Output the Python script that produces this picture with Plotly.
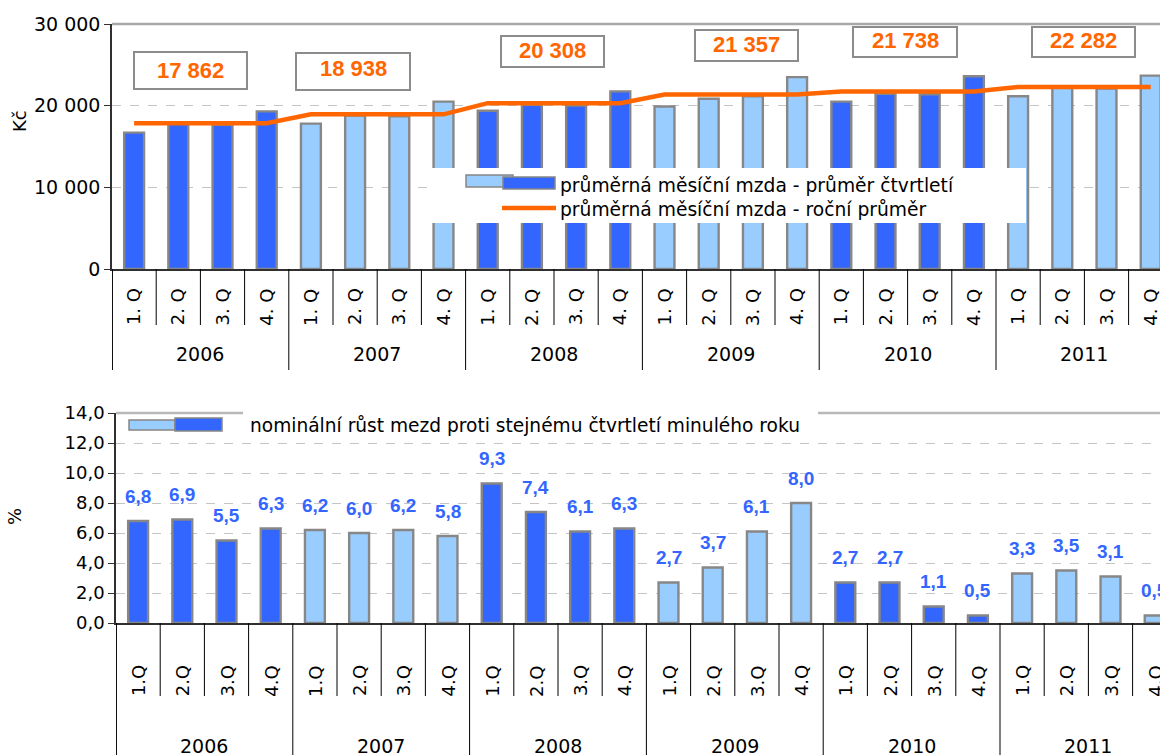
import plotly.graph_objects as go

W, H = 1160, 755

# ---------------- data ----------------
years = ["2006", "2007", "2008", "2009", "2010", "2011"]
quarters_top = ["1. Q", "2. Q", "3. Q", "4. Q"]
quarters_bottom = ["1.Q", "2.Q", "3.Q", "4.Q"]

wage_quarterly = [16700, 17800, 17650, 19300,
                  17800, 18800, 18700, 20500,
                  19380, 20100, 20000, 21750,
                  19900, 20850, 21150, 23500,
                  20500, 21450, 21400, 23600,
                  21150, 22200, 22100, 23680]
wage_annual = [17862, 18938, 20308, 21357, 21738, 22282]
annual_labels = ["17 862", "18 938", "20 308", "21 357", "21 738", "22 282"]

growth = [6.8, 6.9, 5.5, 6.3,
          6.2, 6.0, 6.2, 5.8,
          9.3, 7.4, 6.1, 6.3,
          2.7, 3.7, 6.1, 8.0,
          2.7, 2.7, 1.1, 0.5,
          3.3, 3.5, 3.1, 0.5]

legend_top_bar = "průměrná měsíční mzda - průměr čtvrtletí"
legend_top_line = "průměrná měsíční mzda - roční průměr"
legend_bottom = "nominální růst mezd proti stejnému čtvrtletí minulého roku"

# ---------------- styles ----------------
DARK = "#3366FF"
LIGHT = "#99CCFF"
ORANGE = "#FF6600"
OUTLINE = "#878787"
AXIS = "#303030"
GRID = "#c4c4c4"
FONT = "DejaVu Sans, Liberation Sans, sans-serif"
BOLD = "Liberation Sans, Arial, sans-serif"


def px(x):
    return x / W


def py(y):
    return 1 - y / H


cats = [f"{y} {q}" for y in years for q in quarters_top]
n = len(cats)
colors = [DARK if (i // 4) % 2 == 0 else LIGHT for i in range(n)]
annual_line = [wage_annual[i // 4] for i in range(n)]

fig = go.Figure()

fig.add_trace(go.Bar(x=cats, y=wage_quarterly, marker=dict(color=colors, line=dict(color=OUTLINE, width=2.4)),
                     name=legend_top_bar, showlegend=False, xaxis="x", yaxis="y"))
fig.add_trace(go.Scatter(x=cats, y=annual_line, mode="lines", line=dict(color=ORANGE, width=4.5),
                         name=legend_top_line, showlegend=False, xaxis="x", yaxis="y"))
fig.add_trace(go.Bar(x=cats, y=growth, marker=dict(color=colors, line=dict(color=OUTLINE, width=2.4)),
                     name=legend_bottom, showlegend=False, xaxis="x2", yaxis="y2"))

UNIT = 44.2
top_left, bot_left = 112, 116
top_range = [-0.5, -0.5 + (W - top_left) / UNIT]
bot_range = [-0.5, -0.5 + (W - bot_left) / UNIT]

fig.update_layout(
    width=W, height=H,
    margin=dict(l=0, r=0, t=0, b=0, pad=0),
    paper_bgcolor="white", plot_bgcolor="white",
    separators=", ",
    bargap=0.55,
    showlegend=False,
    font=dict(family=FONT, color="black"),
    xaxis=dict(domain=[px(top_left), 1], type="category", range=top_range, showticklabels=False,
               ticks="", showgrid=False, showline=True, linecolor=AXIS, linewidth=1.5, anchor="y",
               zeroline=False, automargin=False),
    yaxis=dict(domain=[py(269), py(24)], range=[0, 30000], tickvals=[0, 10000, 20000, 30000],
               tickformat=",.0f", ticks="outside", ticklen=6, tickcolor=AXIS, showline=True,
               linecolor=AXIS, linewidth=1.5, showgrid=True, gridcolor=GRID, griddash="dash",
               gridwidth=1.2, zeroline=False, tickfont=dict(family=FONT, size=19, color="black"),
               anchor="x", automargin=False),
    xaxis2=dict(domain=[px(bot_left), 1], type="category", range=bot_range, showticklabels=False,
                ticks="", showgrid=False, showline=True, linecolor=AXIS, linewidth=1.5, anchor="y2",
                zeroline=False, automargin=False),
    yaxis2=dict(domain=[py(623), py(413)], range=[0, 14], tickvals=[0, 2, 4, 6, 8, 10, 12, 14],
                tickformat=".1f", ticks="outside", ticklen=6, tickcolor=AXIS, showline=True,
                linecolor=AXIS, linewidth=1.5, showgrid=True, gridcolor=GRID, griddash="dash",
                gridwidth=1.2, zeroline=False, tickfont=dict(family=FONT, size=18, color="black"),
                anchor="x2", automargin=False),
)

shapes = []
annotations = []

# top borders
shapes.append(dict(type="line", xref="x domain", yref="y domain", x0=0, x1=1, y0=1, y1=1,
                   line=dict(color="#a8a8a8", width=2.5), layer="above"))
shapes.append(dict(type="line", xref="x2 domain", yref="y2 domain", x0=0, x1=1, y0=1, y1=1,
                   line=dict(color="#b8b8b8", width=2.5), layer="above"))

# category separators under the axes
for k in range(n + 1):
    b = k - 0.5
    if k == 0:
        b = -0.49
    is_year = (k % 4 == 0)
    shapes.append(dict(type="line", xref="x", yref="paper", x0=b, x1=b,
                       y0=py(269), y1=py(370 if is_year else 325),
                       line=dict(color="black", width=1)))
    shapes.append(dict(type="line", xref="x2", yref="paper", x0=b, x1=b,
                       y0=py(623), y1=py(760 if is_year else 696),
                       line=dict(color="black", width=1)))

# quarter and year labels
for i in range(n):
    annotations.append(dict(x=i, xref="x", y=py(307), yref="paper", text=quarters_top[i % 4],
                            textangle=-90, showarrow=False, xanchor="center", yanchor="middle",
                            font=dict(family=FONT, size=18, color="black")))
    annotations.append(dict(x=i, xref="x2", y=py(681), yref="paper", text=quarters_bottom[i % 4],
                            textangle=-90, showarrow=False, xanchor="center", yanchor="middle",
                            font=dict(family=FONT, size=18, color="black")))
for k, yr in enumerate(years):
    annotations.append(dict(x=4 * k + 1.5, xref="x", y=py(354), yref="paper", text=yr, showarrow=False,
                            xanchor="center", yanchor="middle", font=dict(family=FONT, size=19, color="black")))
    annotations.append(dict(x=4 * k + 1.5, xref="x2", y=py(746), yref="paper", text=yr, showarrow=False,
                            xanchor="center", yanchor="middle", font=dict(family=FONT, size=19, color="black")))

# growth data labels
for i, v in enumerate(growth):
    annotations.append(dict(x=i, xref="x2", y=v, yref="y2", text=f"{v:.1f}".replace(".", ","),
                            showarrow=False, xanchor="center", yanchor="middle", yshift=25,
                            font=dict(family=BOLD, size=19, color=DARK, weight="bold")))

# annual value boxes
boxes = [(134, 247, 52, 89, 70), (296, 410, 53, 90, 69), (501, 604, 36, 67, 51),
         (695, 798, 30, 61, 45), (853, 957, 27, 57, 41), (1032, 1135, 27, 57, 41)]
for (x0, x1, y0, y1, ty), lab in zip(boxes, annual_labels):
    shapes.append(dict(type="rect", xref="paper", yref="paper", x0=px(x0), x1=px(x1), y0=py(y1), y1=py(y0),
                       fillcolor="white", line=dict(color="#8c8c8c", width=2), layer="above"))
    annotations.append(dict(x=px((x0 + x1) / 2), y=py(ty), xref="paper", yref="paper", text=lab,
                            showarrow=False, xanchor="center", yanchor="middle",
                            font=dict(family=BOLD, size=22, color=ORANGE, weight="bold")))

# top legend
shapes.append(dict(type="rect", xref="paper", yref="paper", x0=px(432), x1=px(1026), y0=py(223), y1=py(168),
                   fillcolor="white", line=dict(width=0), layer="above"))
shapes.append(dict(type="rect", xref="paper", yref="paper", x0=px(466), x1=px(513), y0=py(187), y1=py(175),
                   fillcolor=LIGHT, line=dict(color=OUTLINE, width=1.5), layer="above"))
shapes.append(dict(type="rect", xref="paper", yref="paper", x0=px(503), x1=px(555), y0=py(189), y1=py(177),
                   fillcolor=DARK, line=dict(color=OUTLINE, width=1.5), layer="above"))
shapes.append(dict(type="line", xref="paper", yref="paper", x0=px(502), x1=px(556), y0=py(208), y1=py(208),
                   line=dict(color=ORANGE, width=4.5), layer="above"))
annotations.append(dict(x=px(558), y=py(185), xref="paper", yref="paper", text=legend_top_bar, showarrow=False,
                        xanchor="left", yanchor="middle", font=dict(family=FONT, size=18.7, color="black")))
annotations.append(dict(x=px(558), y=py(210), xref="paper", yref="paper", text=legend_top_line, showarrow=False,
                        xanchor="left", yanchor="middle", font=dict(family=FONT, size=18.7, color="black")))

# bottom legend
shapes.append(dict(type="rect", xref="paper", yref="paper", x0=px(243), x1=px(818), y0=py(437), y1=py(405),
                   fillcolor="white", line=dict(width=0), layer="above"))
shapes.append(dict(type="rect", xref="paper", yref="paper", x0=px(129), x1=px(175), y0=py(430), y1=py(420),
                   fillcolor=LIGHT, line=dict(color=OUTLINE, width=1.5), layer="above"))
shapes.append(dict(type="rect", xref="paper", yref="paper", x0=px(175), x1=px(222), y0=py(431), y1=py(418),
                   fillcolor=DARK, line=dict(color=OUTLINE, width=1.5), layer="above"))
annotations.append(dict(x=px(248), y=py(425), xref="paper", yref="paper", text=legend_bottom, showarrow=False,
                        xanchor="left", yanchor="middle", font=dict(family=FONT, size=18.6, color="black")))

# axis titles
annotations.append(dict(x=px(20), y=py(121), xref="paper", yref="paper", text="Kč", textangle=-90,
                        showarrow=False, xanchor="center", yanchor="middle",
                        font=dict(family=FONT, size=18, color="black")))
annotations.append(dict(x=px(14), y=py(517), xref="paper", yref="paper", text="%", textangle=-90,
                        showarrow=False, xanchor="center", yanchor="middle",
                        font=dict(family=FONT, size=18, color="black")))

fig.update_layout(shapes=shapes, annotations=annotations)

fig.write_html("out.html", config={"displayModeBar": False},
               post_script="document.body.style.margin='0';document.body.style.overflow='hidden';")
